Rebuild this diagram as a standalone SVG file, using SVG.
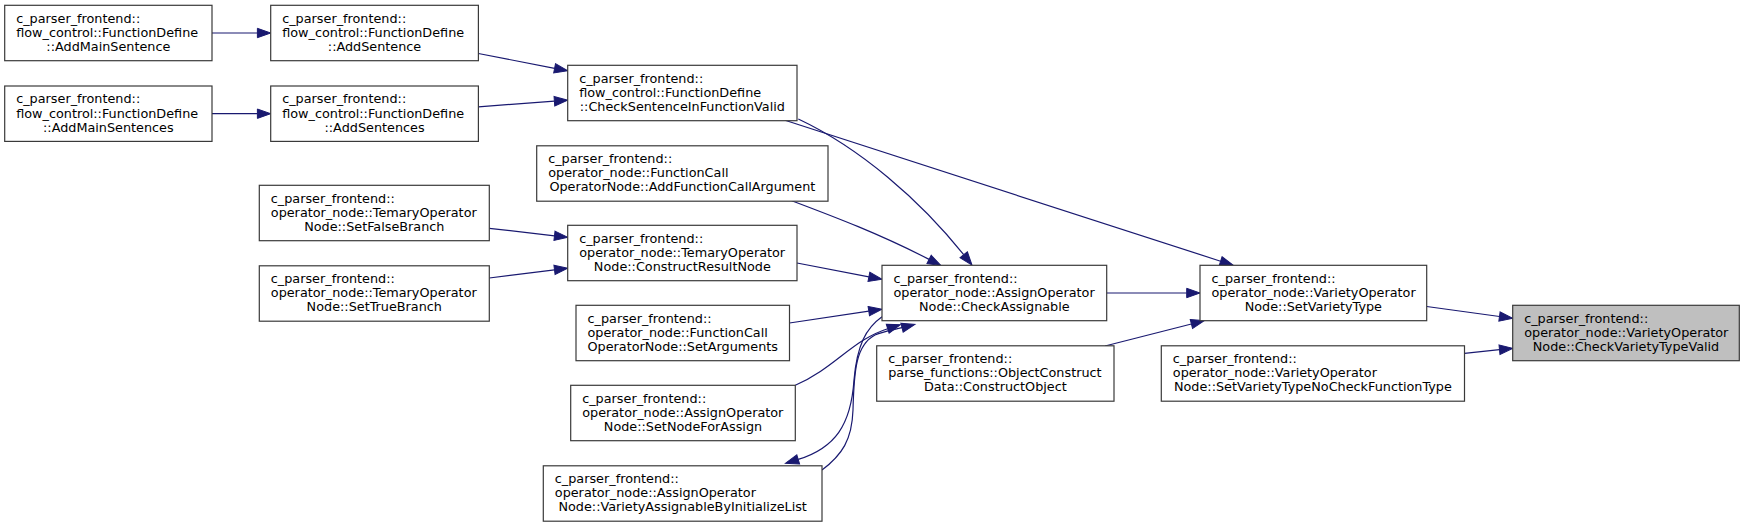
<svg xmlns="http://www.w3.org/2000/svg" width="1745" height="527" viewBox="0 0 1745 527">
<style>
.box{fill:#ffffff;stroke:#3a3a3a;stroke-width:1.2}
.hl{fill:#bfbfbf;stroke:#3a3a3a;stroke-width:1.2}
text{font-family:"DejaVu Sans","Liberation Sans",sans-serif;font-size:12.8px;fill:#000}
.c{text-anchor:middle}
.e{fill:none;stroke:#191970;stroke-width:1.2;marker-end:url(#ah)}
</style>
<defs>
<marker id="ah" markerUnits="userSpaceOnUse" markerWidth="15" markerHeight="11" refX="0" refY="4.7" orient="auto" overflow="visible">
<path d="M0,0 L13.3,4.7 L0,9.4 Z" fill="#191970" stroke="#191970" stroke-width="1"/>
</marker>
</defs>
<rect width="1745" height="527" fill="#ffffff"/>
<g id="connectors">
<path class="e" d="M212,33 L257.4,33"/>
<path class="e" d="M212,113.7 L257.4,113.7"/>
<path class="e" d="M478.4,53.5 L554.6,68.3"/>
<path class="e" d="M478.4,106.8 L554.4,101.2"/>
<path class="e" d="M785,120.3 L1220.6,261.2"/>
<path class="e" d="M798.3,119 C860,148 920,200 963.7,254.7"/>
<path class="e" d="M791.7,200.7 C835,217 880,234 929.1,259.4"/>
<path class="e" d="M489.3,228.3 L554.5,235.8"/>
<path class="e" d="M489.3,278 L554.5,269.9"/>
<path class="e" d="M797,263 L868.9,276.8"/>
<path class="e" d="M789.5,323 L868.8,311.2"/>
<path class="e" d="M795.3,385.3 C835,368 852,340 887.7,328.7"/>
<path class="e" d="M822,470 C842,455 852,440 853,410 C854,370 856,345 875,335 C884,331 893,330 902,327.7"/>
<path class="e" d="M882,316.7 C866,328 857,345 854,380 C851,425 835,448 798.2,459.4"/>
<path class="e" d="M1106.7,293 L1186.7,293"/>
<path class="e" d="M1105,346 L1191.4,324"/>
<path class="e" d="M1426.7,306.5 L1499.5,316.5"/>
<path class="e" d="M1464.5,353.3 L1499.5,349.7"/>
</g>
<g id="n1"><rect class="box" x="4.7" y="5.3" width="207.3" height="55.4"/><text x="16.2" y="22.7">c_parser_frontend::</text><text x="16.2" y="36.8">flow_control::FunctionDefine</text><text class="c" x="108.35" y="50.9">::AddMainSentence</text></g>
<g id="n2"><rect class="box" x="270.7" y="5.3" width="207.7" height="55.4"/><text x="282.2" y="22.7">c_parser_frontend::</text><text x="282.2" y="36.8">flow_control::FunctionDefine</text><text class="c" x="374.55" y="50.9">::AddSentence</text></g>
<g id="n3"><rect class="box" x="4.7" y="86" width="207.3" height="55.4"/><text x="16.2" y="103.4">c_parser_frontend::</text><text x="16.2" y="117.5">flow_control::FunctionDefine</text><text class="c" x="108.35" y="131.6">::AddMainSentences</text></g>
<g id="n4"><rect class="box" x="270.7" y="86" width="207.7" height="55.4"/><text x="282.2" y="103.4">c_parser_frontend::</text><text x="282.2" y="117.5">flow_control::FunctionDefine</text><text class="c" x="374.55" y="131.6">::AddSentences</text></g>
<g id="n5"><rect class="box" x="567.7" y="65.3" width="229.3" height="55.4"/><text x="579.2" y="82.7">c_parser_frontend::</text><text x="579.2" y="96.8">flow_control::FunctionDefine</text><text class="c" x="682.35" y="110.9">::CheckSentenceInFunctionValid</text></g>
<g id="n6"><rect class="box" x="536.7" y="145.8" width="291.3" height="55.4"/><text x="548.2" y="163.2">c_parser_frontend::</text><text x="548.2" y="177.3">operator_node::FunctionCall</text><text class="c" x="682.35" y="191.4">OperatorNode::AddFunctionCallArgument</text></g>
<g id="n7"><rect class="box" x="259.3" y="185.3" width="230" height="55.4"/><text x="270.8" y="202.7">c_parser_frontend::</text><text x="270.8" y="216.8">operator_node::TemaryOperator</text><text class="c" x="374.3" y="230.9">Node::SetFalseBranch</text></g>
<g id="n8"><rect class="box" x="259.3" y="265.8" width="230" height="55.4"/><text x="270.8" y="283.2">c_parser_frontend::</text><text x="270.8" y="297.3">operator_node::TemaryOperator</text><text class="c" x="374.3" y="311.4">Node::SetTrueBranch</text></g>
<g id="n9"><rect class="box" x="567.7" y="225.3" width="229.3" height="55.4"/><text x="579.2" y="242.7">c_parser_frontend::</text><text x="579.2" y="256.8">operator_node::TemaryOperator</text><text class="c" x="682.35" y="270.9">Node::ConstructResultNode</text></g>
<g id="n10"><rect class="box" x="882" y="265.3" width="224.7" height="55.4"/><text x="893.5" y="282.7">c_parser_frontend::</text><text x="893.5" y="296.8">operator_node::AssignOperator</text><text class="c" x="994.35" y="310.9">Node::CheckAssignable</text></g>
<g id="n11"><rect class="box" x="576" y="305.3" width="213.5" height="55.4"/><text x="587.5" y="322.7">c_parser_frontend::</text><text x="587.5" y="336.8">operator_node::FunctionCall</text><text class="c" x="682.75" y="350.9">OperatorNode::SetArguments</text></g>
<g id="n12"><rect class="box" x="570.7" y="385.3" width="224.6" height="55.4"/><text x="582.2" y="402.7">c_parser_frontend::</text><text x="582.2" y="416.8">operator_node::AssignOperator</text><text class="c" x="683" y="430.9">Node::SetNodeForAssign</text></g>
<g id="n13"><rect class="box" x="543.3" y="465.8" width="278.7" height="55.4"/><text x="554.8" y="483.2">c_parser_frontend::</text><text x="554.8" y="497.3">operator_node::AssignOperator</text><text class="c" x="682.65" y="511.4">Node::VarietyAssignableByInitializeList</text></g>
<g id="n14"><rect class="box" x="1200" y="265.3" width="226.7" height="55.4"/><text x="1211.5" y="282.7">c_parser_frontend::</text><text x="1211.5" y="296.8">operator_node::VarietyOperator</text><text class="c" x="1313.35" y="310.9">Node::SetVarietyType</text></g>
<g id="n15"><rect class="box" x="876.7" y="345.8" width="237.3" height="55.4"/><text x="888.2" y="363.2">c_parser_frontend::</text><text x="888.2" y="377.3">parse_functions::ObjectConstruct</text><text class="c" x="995.35" y="391.4">Data::ConstructObject</text></g>
<g id="n16"><rect class="hl" x="1512.7" y="305.3" width="226.6" height="55.4"/><text x="1524.2" y="322.7">c_parser_frontend::</text><text x="1524.2" y="336.8">operator_node::VarietyOperator</text><text class="c" x="1626" y="350.9">Node::CheckVarietyTypeValid</text></g>
<g id="n17"><rect class="box" x="1161.3" y="345.8" width="303.2" height="55.4"/><text x="1172.8" y="363.2">c_parser_frontend::</text><text x="1172.8" y="377.3">operator_node::VarietyOperator</text><text class="c" x="1312.9" y="391.4">Node::SetVarietyTypeNoCheckFunctionType</text></g>
</svg>
